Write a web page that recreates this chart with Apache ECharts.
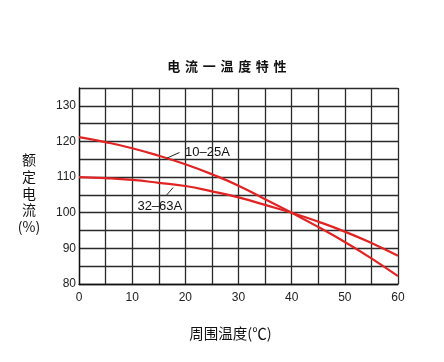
<!DOCTYPE html>
<html><head><meta charset="utf-8">
<script src="https://cdn.jsdelivr.net/npm/echarts@6/dist/echarts.min.js"></script>
<style>html,body{margin:0;padding:0;background:#fff}#c{width:444px;height:362px}</style>
</head><body><div id="c"></div>
<script>
const temps = [0,5,10,15,20,25,30,35,40,45,50,55,60];
const current10to25 = [121.2,119.8,118.1,116.0,113.6,110.8,107.6,103.8,100,96.0,91.8,87.2,82.2];
const current32to63 = [110.0,109.7,109.2,108.4,107.5,106.0,104.3,102.2,100,97.5,94.7,91.5,87.9];
const seriesNames = ['10–25A','32–63A'];
const labelLeader10 = [[16.5,115.3],[18.9,116.9]];
const labelLeader32 = [[16.5,105.0],[17.7,107.05]];
const labelPos10 = [19.95,116.9];
const labelPos32 = [15.2,101.7];
const titleText = '电流一温度特性';
const yName = ['额','定','电','流','(%)'];

const chart = echarts.init(document.getElementById('c'));
const red = '#e02424';
const font = '"Noto Sans CJK SC","Liberation Sans",Arial,sans-serif';
const latin = '"Liberation Sans",Arial,sans-serif';
function pairs(xs, ys){ return xs.map((x,i)=>[x,ys[i]]); }
function leader(seg){
  return {silent:true, symbol:['none','none'], label:{show:false},
    lineStyle:{color:'#222',width:1,type:'solid'},
    data:[[{coord:seg[0]},{coord:seg[1]}]]};
}
function tag(pos, text, where){
  return {silent:true, symbol:'circle', symbolSize:0,
    label:{show:true, position:where, distance:0, formatter:text, color:'#111', fontSize:13, fontFamily:latin},
    data:[{coord:pos}]};
}
chart.setOption({
  animation:false,
  title:{text:titleText.split('').map(c=>'{c|'+c+'}').join(''), left:165, top:60, padding:0,
    textStyle:{rich:{c:{width:17.7, align:'center', fontSize:13, fontWeight:'bold', color:'#111', fontFamily:font}}}},
  graphic:[{type:'text', x:29, y:151.5, style:{text:yName.join('\n'), textAlign:'center', textVerticalAlign:'top',
    fontSize:14, lineHeight:16.7, fill:'#111', fontFamily:font}}],
  grid:{left:79, right:46, top:88, bottom:78},
  xAxis:{type:'value', min:0, max:60, interval:5,
    name:'周围温度(℃)', nameLocation:'middle', nameGap:42,
    nameTextStyle:{fontSize:14.5, color:'#111', fontFamily:font, padding:[0,16,0,0]},
    axisLine:{lineStyle:{color:'#111',width:1.3}},
    axisTick:{show:false},
    axisLabel:{margin:8, color:'#222', fontSize:12, fontFamily:latin, formatter:v=> v%10===0 ? String(v) : ''},
    splitLine:{show:true, lineStyle:{color:'#2a2a2a', width:1.3}}
  },
  yAxis:{type:'value', min:80, max:135, interval:5,
    axisLine:{show:true, lineStyle:{color:'#111',width:1.3}},
    axisTick:{show:false},
    axisLabel:{margin:3, color:'#222', fontSize:12, fontFamily:latin, formatter:v=> v%10===0 ? String(v) : ''},
    splitLine:{show:true, lineStyle:{color:'#2a2a2a', width:1.3}}
  },
  series:[
    {type:'line', name:seriesNames[0], data:pairs(temps,current10to25), smooth:true, symbol:'none',
     lineStyle:{color:red,width:2.2}, markLine:leader(labelLeader10), markPoint:tag(labelPos10, seriesNames[0], 'right')},
    {type:'line', name:seriesNames[1], data:pairs(temps,current32to63), smooth:true, symbol:'none',
     lineStyle:{color:red,width:2.2}, markLine:leader(labelLeader32), markPoint:tag(labelPos32, seriesNames[1], 'inside')}
  ]
});
</script></body></html>
